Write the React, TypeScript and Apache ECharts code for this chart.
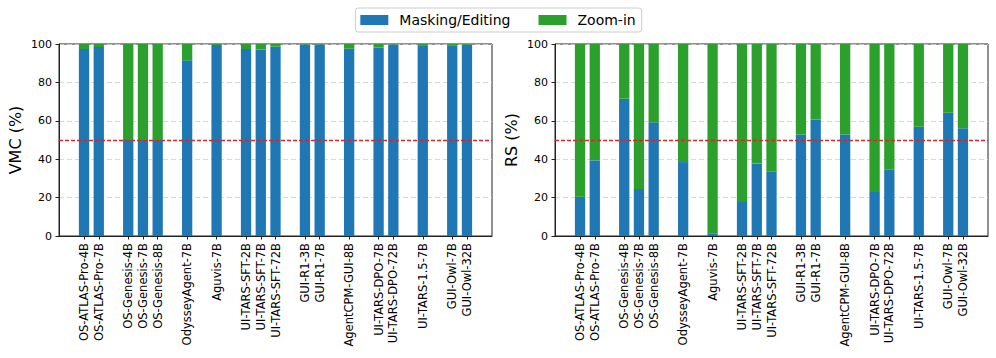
import React, { useEffect, useRef } from "react";
import * as echarts from "echarts";

const models = [
  "OS-ATLAS-Pro-4B", "OS-ATLAS-Pro-7B",
  "OS-Genesis-4B", "OS-Genesis-7B", "OS-Genesis-8B",
  "OdysseyAgent-7B",
  "Aguvis-7B",
  "UI-TARS-SFT-2B", "UI-TARS-SFT-7B", "UI-TARS-SFT-72B",
  "GUI-R1-3B", "GUI-R1-7B",
  "AgentCPM-GUI-8B",
  "UI-TARS-DPO-7B", "UI-TARS-DPO-72B",
  "UI-TARS-1.5-7B",
  "GUI-Owl-7B", "GUI-Owl-32B",
];
const positions = [0, 1, 3, 4, 5, 7, 9, 11, 12, 13, 15, 16, 18, 20, 21, 23, 25, 26];

const vmcMasking = [97.4, 98.4, 50.0, 50.0, 50.0, 91.5, 99.5, 97.4, 97.2, 98.6, 99.8, 99.8, 97.6, 98.1, 99.8, 99.0, 99.3, 99.7];
const vmcZoom = [2.6, 1.6, 50.0, 50.0, 50.0, 8.5, 0.5, 2.6, 2.8, 1.4, 0.2, 0.2, 2.4, 1.9, 0.2, 1.0, 0.7, 0.3];

const rsMasking = [20.5, 39.4, 71.5, 24.5, 59.2, 38.5, 1.2, 18.2, 37.7, 33.5, 52.8, 60.6, 52.8, 23.4, 34.5, 56.9, 64.2, 56.1];
const rsZoom = [79.5, 60.6, 28.5, 75.5, 40.8, 61.5, 98.8, 81.8, 62.3, 66.5, 47.2, 39.4, 47.2, 76.6, 65.5, 43.1, 35.8, 43.9];

const yTicks = [0, 20, 40, 60, 80, 100];
const yNames = ["VMC (%)", "RS (%)"];
const threshold = 50;

// x axis limits in position units (matplotlib margins)
const X_MIN = -1.7;
const X_MAX = 27.7;
const STEP = 0.1;

const BLUE = "#1f77b4";
const GREEN = "#2ca02c";
const FONT = "DejaVu Sans";

export default function App() {
  const ref = useRef<HTMLDivElement>(null);
  useEffect(() => {
    if (!ref.current) return;
    const chart = echarts.init(ref.current, null, { renderer: "svg" });
    const nSlots = Math.round((X_MAX - X_MIN) / STEP) + 1;
    const slotOf = (p: number) => Math.round((p - X_MIN) / STEP);
    const cats: string[] = [];
    const labelAt: Record<number, string> = {};
    positions.forEach((p, i) => (labelAt[slotOf(p)] = models[i]));
    for (let k = 0; k < nSlots; k++) cats.push(labelAt[k] !== undefined ? labelAt[k] : "s" + k);
    const isModel = (idx: number) => labelAt[idx] !== undefined;

    const grids = [
      { left: 59, top: 44, width: 433, height: 192 },
      { left: 555, top: 44, width: 433, height: 192 },
    ];
    const mk = (i: number) => ({
      type: "category",
      gridIndex: i,
      data: cats,
      boundaryGap: false,
      splitLine: { show: false },
      axisLine: { show: true, lineStyle: { color: "#222", width: 1 } },
      axisTick: { show: true, interval: (idx: number) => isModel(idx), length: 3.5, lineStyle: { color: "#222", width: 1 } },
      axisLabel: {
        show: true,
        interval: (idx: number) => isModel(idx),
        rotate: 90,
        margin: 7,
        fontFamily: FONT,
        fontSize: 11.5,
        color: "#000",
      },
    });
    const my = (i: number) => ({
      type: "value",
      gridIndex: i,
      min: yTicks[0],
      max: yTicks[yTicks.length - 1],
      interval: 20,
      name: yNames[i],
      nameLocation: "middle",
      nameGap: 36,
      nameRotate: 90,
      nameTextStyle: { fontFamily: FONT, fontSize: 16, color: "#000" },
      axisLine: { show: true, lineStyle: { color: "#222", width: 1 } },
      axisTick: { show: true, length: 3.5, lineStyle: { color: "#222", width: 1 } },
      axisLabel: { fontFamily: FONT, fontSize: 11, color: "#000", margin: 7 },
      splitLine: { show: true, lineStyle: { color: "#d0d0d0", type: [5, 3], width: 1, opacity: 0.8 } },
    });
    const slotData = (vals: number[]) => {
      const arr: (number | null)[] = new Array(nSlots).fill(null);
      positions.forEach((p, i) => (arr[slotOf(p)] = vals[i]));
      return arr;
    };
    const mkSeries = (i: number, masking: number[], zoom: number[]) => [
      {
        name: "Masking/Editing",
        type: "bar",
        xAxisIndex: i,
        yAxisIndex: i,
        stack: "s" + i,
        barWidth: 10.3,
        itemStyle: { color: BLUE },
        data: slotData(masking),
        markLine: {
          silent: true,
          symbol: "none",
          label: { show: false },
          lineStyle: { color: "#d62728", type: [4, 2], width: 1.3 },
          data: [{ yAxis: threshold }],
          z: 10,
        },
      },
      {
        name: "Zoom-in",
        type: "bar",
        xAxisIndex: i,
        yAxisIndex: i,
        stack: "s" + i,
        barWidth: 10.3,
        itemStyle: { color: GREEN },
        data: slotData(zoom),
      },
    ];
    chart.setOption({
      animation: false,
      textStyle: { fontFamily: FONT },
      legend: {
        top: 8,
        left: "center",
        data: ["Masking/Editing", "Zoom-in"],
        icon: "rect",
        itemWidth: 28,
        itemHeight: 10,
        itemGap: 28,
        padding: [5, 6, 5, 5],
        borderColor: "#cccccc",
        borderWidth: 1,
        borderRadius: 3,
        textStyle: { fontFamily: FONT, fontSize: 14, color: "#000", padding: [0, 0, 0, 6] },
      },
      grid: grids.map((g) => ({ ...g, show: true, borderColor: "#222", borderWidth: 1, backgroundColor: "transparent" })),
      xAxis: [mk(0), mk(1)],
      yAxis: [my(0), my(1)],
      series: [...mkSeries(0, vmcMasking, vmcZoom), ...mkSeries(1, rsMasking, rsZoom)],
    });
    return () => chart.dispose();
  }, []);
  return (
    <div
      ref={ref}
      style={{ position: "fixed", left: 0, top: 0, width: 996, height: 358, background: "#fff" }}
    />
  );
}
